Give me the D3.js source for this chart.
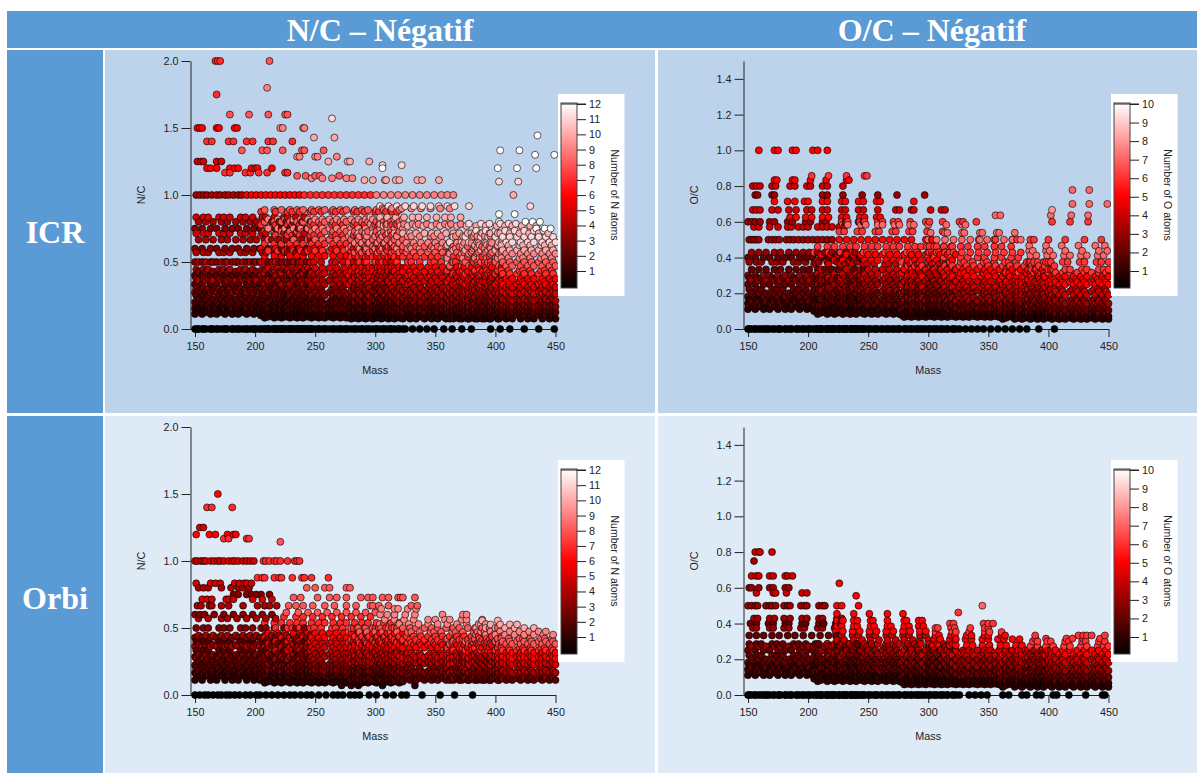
<!DOCTYPE html>
<html><head><meta charset="utf-8">
<script src="https://cdn.jsdelivr.net/npm/d3@7"></script>
<style>html,body{margin:0;padding:0;background:#fff}svg{display:block}</style></head>
<body><svg id="c" width="1198" height="773"></svg>
<script>
// Peak masses read per mass region. Levels are [atoms, carbons]; ratio = atoms / carbons.
const massTicks=[150,200,250,300,350,400,450];
const ncTicks=[0,0.5,1,1.5,2];
const ocTicks=[0,0.2,0.4,0.6,0.8,1,1.2,1.4];
const A1=[150,156,163,168,175,181,186,193,199,204,211,217,222,229,236,243];
const A2=[153,159,165,172,177,184,190,196,201,208,214,220,226,232,239,246];
const A3=[151,157,161,170,174,179,188,192,198,206,209,216,224,227,234,241];
const B1=[208,216,222,229,235,240,247,253,258,265,271,276,283,289,294,301,307,313,320];
const B2=[211,219,225,232,238,244,250,256,262,268,274,280,286,292,298,304,310,316,323];
const B3=[205,217,227,231,237,246,249,255,264,267,273,282,285,291,300,303,309,314,318];
const C1=[280,286,292,298,305,311,316,323,329,334,341,347,352,359,365,370,377,383,389,395,402];
const C2=[283,289,295,302,308,314,320,326,332,338,344,350,356,362,368,374,380,386,392,397,405];
const C3=[278,287,293,300,306,313,318,327,330,337,346,349,355,364,367,373,382,385,391,396,400];
const D1=[362,372,378,385,391,396,403,409,414,421,427,432,439,445,450];
const D2=[365,375,381,388,394,400,406,412,418,424,430,436,442,448];
const D3=[360,373,383,387,393,402,405,411,420,423,429,438,441,447];
const icrNcA=[[1,9],[1,8],[1,7],[2,13],[1,6],[2,11],[2,10],[2,9],[2,8],[3,11],[2,7],[3,10],[2,6],[4,11],[3,8],[2,5],[3,7],[4,9],[3,6],[4,8],[4,7],[3,5],[4,6],[5,7],[3,4],[4,5],[5,6]];
const icrNcB=[[1,12],[1,11],[1,10],[1,9],[1,8],[2,15],[2,14],[2,13],[2,12],[2,11],[2,10],[2,9],[3,12],[3,11],[3,10],[4,12],[4,11],[4,10],[5,12],[5,11],[5,10],[6,11],[7,12],[6,10],[7,11],[8,12],[7,10],[8,11],[9,12],[7,9],[8,10],[9,11],[7,8],[8,9]];
const icrNcC=[[1,13],[1,11],[1,9],[2,16],[2,14],[2,13],[2,12],[3,15],[3,14],[3,13],[4,16],[4,15],[4,14],[4,13],[5,15],[5,14],[5,13],[6,15],[6,14],[6,13],[7,14],[7,13],[8,14],[9,15],[8,13],[9,14],[9,13],[10,14]];
const icrNcD=[[1,13],[2,19],[2,17],[2,16],[2,15],[3,20],[3,18],[3,17],[3,16],[4,19],[4,18],[4,17],[5,19],[5,18],[5,17],[5,16],[6,18],[6,17],[6,16],[7,17],[7,16],[8,17],[8,16],[9,17],[9,16],[10,17],[10,16],[11,17],[11,16]];
const icrOcA=[[1,9],[1,8],[2,15],[1,7],[2,13],[1,6],[2,11],[2,10],[2,9],[2,8],[3,11],[2,7],[3,10],[2,6],[3,8],[2,5],[3,7]];
const icrOcB=[[1,12],[1,11],[1,10],[1,9],[2,15],[2,14],[2,13],[2,12],[2,11],[2,10],[3,14],[3,13],[3,12],[3,11],[4,14],[4,13],[4,12],[4,11],[5,13],[5,12],[6,14],[6,13]];
const icrOcC=[[1,15],[1,14],[1,13],[1,12],[1,11],[2,19],[2,17],[2,15],[2,14],[3,19],[3,17],[3,15],[3,14],[4,17],[4,16],[4,15],[5,17],[5,16],[5,15],[6,17],[6,16]];
const icrOcD=[[1,18],[1,16],[1,15],[1,14],[2,23],[2,21],[2,19],[2,17],[3,23],[3,21],[3,19],[3,18],[4,21],[4,19],[4,18],[5,20],[5,19],[5,18],[5,17],[6,19]];
const orbiNcA=[[1,9],[1,7],[2,13],[1,6],[2,11],[2,10],[2,9],[2,8],[3,11],[2,7],[3,10],[2,6],[4,11],[3,8],[2,5],[3,7],[4,9],[3,6]];
const orbiNcB=[[1,11],[1,10],[2,15],[2,14],[2,13],[2,12],[3,17],[3,16],[3,15],[3,14],[3,13],[4,15],[4,14],[4,13],[5,15],[5,14],[5,13],[6,15],[6,14],[6,13],[7,14],[7,13]];
const orbiNcC=[[2,18],[2,16],[3,20],[3,18],[3,17],[3,15],[4,17],[4,16],[5,19],[5,18],[5,17],[5,16],[6,17],[6,16],[7,18],[7,17],[7,16],[8,17],[8,16]];
const orbiNcD=[[2,18],[3,24],[3,22],[4,24],[4,22],[4,20],[5,22],[5,21],[5,20],[6,22],[6,21],[6,20],[6,19],[7,21],[7,20],[8,21],[8,20],[8,19]];
const orbiOcA=[[1,9],[1,8],[2,15],[1,7],[2,13],[1,6],[2,11],[2,10],[2,9],[2,8],[3,11],[2,7]];
const orbiOcB=[[1,13],[1,12],[1,11],[1,10],[1,9],[2,15],[2,14],[2,13],[2,12],[2,11],[2,10],[3,14],[3,13],[3,12],[3,11],[4,14]];
const orbiOcC=[[1,17],[1,16],[1,14],[1,13],[1,12],[2,19],[2,17],[2,15],[2,14],[3,19],[3,17],[3,16],[3,15],[4,18],[4,17],[4,16]];
const orbiOcD=[[1,22],[1,18],[1,16],[1,15],[2,25],[2,22],[2,20],[2,18],[3,24],[3,22],[3,20],[3,18],[4,22],[4,20],[4,19],[5,22],[5,20]];
const icrNcExtra=[
[0,1,[152,157,163,169,175,181,187,193,199,205,211,217,223,229,235,241,247,253,259,265,271,277,283,289,295,301,307,313,319,325,331,337,343,349,357,364,372,380,396,404,412,424,436,449]],[0,1,A1],[0,1,A2],[0,1,B1],[0,1,B2],
[9,11.5,[296,304,310,317,324,331,336,343,351,358,363,371]],[11,14,[378,388,395,404,411,417]],[10,13,[299,307,313,321,327,334,340,347,354,361,368,376,384,392,401,408,414,422,429,434]],[10,12,[296,304,310,317,324,331,336,343,351,358,363,371]],[9,10,[306,314,322,330,338,346,354,362]],[10,14,[380,388,396,404,412,420,428,436,444]],[11,15,[384,392,400,408,416,424,432,440]],
[12,15,[403,425,431,437]],[12,16,[434,441,446]],[12,14,[403,416]],
[4,4,[151,154,157,160,164,168,171,175,178,182,186,189]],[6,6,[193,197,201,205,209,213,217,221,225,229,233,237]],[7,7,[241,246,251,256,261,266,271,276,281,286,291,296]],[9,9,[301,307,313,319,325,331,337,343,349,355,360,365]],[10,10,[415]],
[7,3.5,[167,169,171]],[8,4,[212]],[9,5,[210]],[7,4,[168]],[8,5,[179,195,211,225,227]],[6,4,[152,154,156,168,170,183,185]],[9,6,[221,223,240,241]],[11,7,[264]],[10,7,[249,266]],[7,5,[160,164,178,182,193,198,211,215,231]],[8,6,[189,206,210,223,239,241,257]],[9,7,[235,237,250,252,268]],[5,4,[152,155,157,168,172]],[10,8,[261,277,279,295]],[6,5,[160,163,168,179,183,186,197,200,202,214]],[12,10,[306,402,418,434]],[7,6,[175,179,192,196,203,210,225,227]],[8,7,[235,242,250,254,270]],[9,8,[247,256,264,276,281]],[10,9,[291,298,309,317,308,320,335,339,353]],[11,9,[306,322]],[13,9,[435]],[12,9,[404,420]],[13,10,[433,449]],[11,10,[403,419]],[11,12,[304,311,318,325,332,339,346,353,360,366,378,429]]
];
const icrOcExtra=[
[0,1,[151,156,161,166,171,176,181,186,191,196,201,206,211,216,221,226,231,236,241,246,251,256,261,266,271,276,281,286,291,296,301,306,311,316,321,326,331,336,341,346,352,358,364,370,376,382,392,405]],[0,1,A1],[0,1,A2],[0,1,B1],[0,1,B2],
[3,6,[151,153,155,157,159,167,170,173,176,182,185,188,192,196,200,204,208,212,216,220]],[4,7,[155,159,168,175,183,186,192,196,200,208,212,216,220,226,230]],[3,5,[150,153,156,160,168,172,183,187,198,202,212,215,228,231,242,246]],[5,8,[185,190,198,203,212,217,228,232,243,247,257,260]],[4,6,[154,157,160,170,175,184,190,199,203,212,216,228,231,242,246,258,273,276,286,288,302,311,314]],[5,7,[172,183,189,197,200,212,216,228,231,242,246,257,260,288]],[3,4,[156,158,170,172,212,216,229,245,258,274,297]],[4,5,[154,157,160,170,173,185,189,199,202,212,216,229]],[5,6,[172,174,187,189,202,215,232,234]],[6,7,[203,217,232,247,249]],[5,5,[159,172,175,187,190,204,208,216]],
[5,10,[226,232,238,244,250,256,262,268,274,280,286,298,303]],[6,11,[226,230,241,245,256,259,270,273,284,287,299,312]],[6,10,[228,233,243,247,258,262,271,275,285,298,301,312,326,329,340]],[7,12,[229,233,244,248,258,262,272,276,285,288,300,315,328,331]],
[6,15,[300,305,313,319,327,333,341,347,355,361,369,375]],[6,14,[301,307,314,321,328,335,342,349,356,363,370,377]],[6,13,[299,305,313,319,327,333,341,347,355,361,369]],[7,14,[300,307,314,321,328,335,343,349,355,363,370,377]],[7,13,[302,314,316,328,330,343,345,357,359,372]],
[6,18,[386,390,400,404,414,418,428,432,442,446,450]],[6,16,[384,388,398,402,412,416,426,430,440,444,450]],[7,17,[385,390,399,404,413,418,427,432,441,446]],[7,16,[384,387,398,401,414,428,442,449]],
[6,10,[403,418,433]],[7,10,[420,434,449]],[8,12,[403]],[7,9,[420,434]],[6,12,[342,356,370,374,385,388,400,414,430,444]],[7,11,[356,360,402,419,433]],[7,15,[384,398,411,425,439,447]]
];
const orbiNcExtra=[
[0,1,[150,154,158,161,165,169,172,176,179,183,187,192,196,201,204,209,214,219,224,229,233,238,243,247,253,259,265,269,273,279,283,287,295,301,309,315,322,326,339,354,366,381]],
[1,14,[272,280,286,306,333]],
[4,7,[153,161,172,177,185,193,201,209,217]],[3,5,[150,154,158,166,174,182,190,198,206,214]],[4,6,[152,155,162,164,172,178,190,202,208,212,218]],[5,7,[156,160,164,176,178,182,198,206,214]],[3,4,[182,186,193,197,201,205,212]],[4,5,[153,157,161,172,180,186,190,195]],[5,6,[151,163,167,171,183,187,191,193,197]],[5,5,[150,152,155,157,159,163,166,169,171,174,178,181,183,186,190,193,196,199]],[7,7,[207,209,212,216,218,221,227,233,235,237]],[7,8,[202,206,208,216,220,222,231,239,241,247,261]],[6,4,[169]],[7,5,[160,164,181]],[5,4,[154,157]],[6,5.01,[151,162,167,177,182,184]],[7,6,[174,178,193,195]],[8,7,[221]],
[7,12,[224,234,240,248,256,264,272,280,288,296]],[8,13,[226,236,244,252,260,268,276,284,292,300]],[8,12,[228,234,240,248,258,266,276,284,296,298]],[8,11,[232,238,252,262,268,276,288,294,298]],[8,10,[243,250,258,262,276,279]],
[9,17,[304,312,320,328,336,344,352,360,368,376,386,392]],[9,16,[308,316,324,332,344,350,358,362,372,376,389]],[9,15,[304,310,316,325,333,356,373,376]],[9,14,[305,316,319,327,334]],[8,11,[306,311,319,321,323,333]],[8,12,[303,311,330,335]],
[9,20,[384,392,400,408,416,424,432,440,448]],[9,19,[388,396,404,412,420,428,436,442]],[10,20,[384,392,400,408,416,424,432]],[10,19,[388,396,404,412,418]],[10,18,[389,402]]
];
const orbiOcExtra=[
[0,1,[151,156,161,166,171,176,181,186,191,196,201,206,211,216,221,226,231,236,241,246,251,256,261,266,271,276,281,286,291,296,301,306,311,316,321,326,334,339,344,349,362,367,378,382,390,394,404,407,417,431,445,447]],[0,1,A1],[0,1,A2],[0,1,B1],[0,1,B2],
[2,6,[151,157,163,170,176,183,189,196,203,210,217,224]],[3,8,[154,157,168,171,180,184,194,197,208,212,222]],[2,5,[152,157,167,171,181,184,195,198,209,213,223,227]],[3,7,[155,158,168,172,180,185,195,199,209,212,224,228]],[3,6,[150,153,156,158,165,168,170,173,180,183,185,194,197,199,209,212,214]],[4,7,[157,171,173,182,195,199]],[3,5,[151,153,159,168,171,181,184]],[4,6,[153,157,159,168,171,181,183,187]],[3,4,[155]],[4,5,[156,159,160,170]],[5,8,[226]],[5,9,[240]],[5,10,[224,228,242]],
[4,13,[224,230,238,245,252,259,266,273,280,287,293,300]],[4,12,[223,228,237,242,251,256,265,270,279,284,293,298]],[5,14,[223,229,237,243,251,257,265,271,279,285,293,298]],[5,13,[224,228,238,241,252,255,266,269,280,284,292,296]],[5,12,[224,229,238,241,252,254,266,280,282,292,295]],[5,11,[224,238,251,266,279]],
[5,18,[304,309,318,323,332,337,345,351,360,365,373,378]],[5,16,[305,310,318,323,331,336,345,350,358,363,370,376]],[5,15,[306,309,319,322,332,336,347,350,361,364]],[6,17,[306,320,323,334,347,351,361]],[6,16,[306,308,319,322,335,347,350]],[6,15,[318,321,346,350,354]],[6,13,[325]],[7,14,[345]],
[6,22,[385,391,398,404,413,418,427,432,441,446,450]],[6,20,[387,391,399,402,414,417,428,431,442,447]],[6,19,[389,398,415,420,429,443]],[6,18,[389,425,429,432,436,447]]
];
const SEG=[[A1,A2,A3],[B1,B2,B3],[C1,C2,C3],[D1,D2,D3]];
const panels=[
 {levels:[icrNcA,icrNcB,icrNcC,icrNcD],extra:icrNcExtra,x0:195,dy:0,yMax:2,yTicks:ncTicks,yLabel:"N/C",cMax:12,cTitle:"Number of N atoms"},
 {levels:[icrOcA,icrOcB,icrOcC,icrOcD],extra:icrOcExtra,x0:748,dy:0,yMax:1.5,yTicks:ocTicks,yLabel:"O/C",cMax:10,cTitle:"Number of O atoms"},
 {levels:[orbiNcA,orbiNcB,orbiNcC,orbiNcD],extra:orbiNcExtra,x0:195,dy:366,yMax:2,yTicks:ncTicks,yLabel:"N/C",cMax:12,cTitle:"Number of N atoms"},
 {levels:[orbiOcA,orbiOcB,orbiOcC,orbiOcD],extra:orbiOcExtra,x0:748,dy:366,yMax:1.5,yTicks:ocTicks,yLabel:"O/C",cMax:10,cTitle:"Number of O atoms"}
];
const FF='"Liberation Sans",Arial,sans-serif',SF='"Liberation Serif","Times New Roman",serif';
const svg=d3.select("#c");
const rect=(x,y,w,h,f)=>svg.append("rect").attr("x",x).attr("y",y).attr("width",w).attr("height",h).attr("fill",f);
rect(7,11,1190,37,"#5B9BD5");
rect(7,50,96,363,"#5B9BD5");rect(7,416,96,357,"#5B9BD5");
rect(105,50,550,363,"#BDD3EB");rect(658,50,539,363,"#BDD3EB");
rect(105,416,550,357,"#DEEAF6");rect(658,416,539,357,"#DEEAF6");
const big=(t,x,y)=>svg.append("text").text(t).attr("x",x).attr("y",y).attr("text-anchor","middle").attr("fill","#fff").attr("font-family",SF).attr("font-weight","bold").attr("font-size",32);
big("N/C – Négatif",380,41);big("O/C – Négatif",932,41);big("ICR",55,243);big("Orbi",55,609);
const defs=svg.append("defs");
panels.forEach((p,i)=>{
 const g=svg.append("g").attr("font-family",FF);
 const x=d3.scaleLinear([150,450],[p.x0,p.x0+360.5]);
 const y=d3.scaleLinear([0,p.yMax],[329+p.dy,61+p.dy]);
 const col=d3.scaleLinear().domain([0,p.cMax/2,p.cMax]).range(["#000","#f00","#fff"]).clamp(true);
 const ax=p.x0-4.5;
 const gx=g.append("g").attr("transform",`translate(0,${329+p.dy})`).call(d3.axisBottom(x).tickValues(massTicks).tickSize(8).tickSizeOuter(0).tickFormat(d3.format("d")));
 const gy=g.append("g").attr("transform",`translate(${ax},0)`).call(d3.axisLeft(y).tickValues(p.yTicks).tickSize(9).tickSizeOuter(0).tickFormat(d3.format(".1f")));
 g.append("line").attr("x1",ax).attr("x2",x(450)).attr("y1",329.5+p.dy).attr("y2",329.5+p.dy).attr("stroke","#222");
 [gx,gy].forEach(a=>{a.selectAll("text").attr("font-size",10.8).attr("font-family",FF).attr("fill","#222");a.selectAll("path,line").attr("stroke","#222");});
 gx.selectAll("text").attr("dy","0.9em");
 g.append("text").text("Mass").attr("x",x(300)).attr("y",374+p.dy).attr("text-anchor","middle").attr("font-size",10.8).attr("fill","#222");
 g.append("text").text(p.yLabel).attr("transform",`translate(${ax-46},${195+p.dy}) rotate(-90)`).attr("text-anchor","middle").attr("font-size",10.8).attr("fill","#222");
 const rows=p.levels.flatMap((lv,s)=>lv.map(([n,c],k)=>[n,c,SEG[s][k%3]])).concat(p.extra);
 const pts=rows.flatMap(([n,c,ms])=>ms.map(m=>({n,r:n/c,m}))).sort((a,b)=>a.m-b.m||a.n-b.n);
 g.append("g").selectAll("circle").data(pts).join("circle").attr("cx",d=>x(d.m)).attr("cy",d=>y(d.r)).attr("r",3.5).attr("fill",d=>col(d.n)).attr("stroke","#000").attr("stroke-opacity",.62).attr("stroke-width",1);
 const bx=x(450)+2.5;
 g.append("rect").attr("x",bx).attr("y",94+p.dy).attr("width",66.5).attr("height",202).attr("fill","#fff");
 const id="grad"+i,gr=defs.append("linearGradient").attr("id",id).attr("x1",0).attr("x2",0).attr("y1",1).attr("y2",0);
 [0,.5,1].forEach(o=>gr.append("stop").attr("offset",o).attr("stop-color",col(o*p.cMax)));
 g.append("rect").attr("x",bx+3).attr("y",103+p.dy).attr("width",16).attr("height",185).attr("fill",`url(#${id})`).attr("stroke","#444").attr("stroke-width",1);
 const cs=d3.scaleLinear([1,p.cMax],[271+p.dy,104+p.dy]);
 const gc=g.append("g").attr("transform",`translate(${bx+19},0)`).call(d3.axisRight(cs).tickValues(d3.range(1,p.cMax+1)).tickSize(9).tickSizeOuter(0).tickFormat(d3.format("d")));
 gc.select(".domain").remove();
 gc.selectAll("text").attr("font-size",10.8).attr("font-family",FF).attr("fill","#222");gc.selectAll("line").attr("stroke","#222");
 g.append("line").attr("x1",bx+3).attr("x2",bx+28).attr("y1",104+p.dy).attr("y2",104+p.dy).attr("stroke","#222");
 g.append("text").text(p.cTitle).attr("transform",`translate(${bx+56},${195+p.dy}) rotate(90)`).attr("text-anchor","middle").attr("dy","0.32em").attr("font-size",10.5).attr("fill","#222");
});
</script></body></html>
